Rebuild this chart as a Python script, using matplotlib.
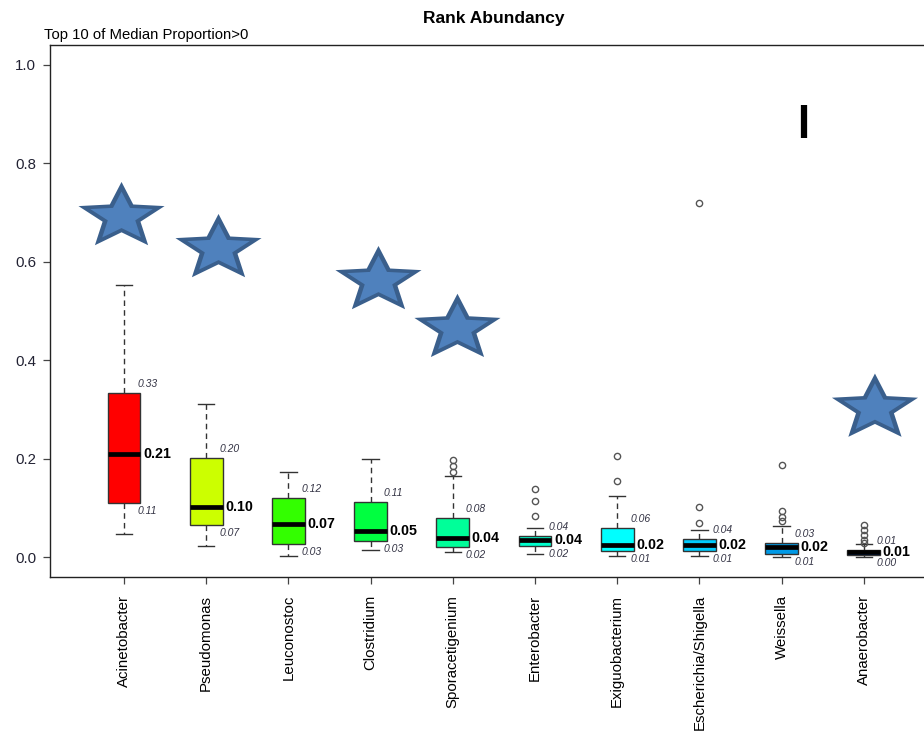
import numpy as np
import matplotlib
matplotlib.use("Agg")
import matplotlib.pyplot as plt
from matplotlib.path import Path

plt.rcParams['font.family'] = ['Liberation Sans', 'DejaVu Sans']

# data
genera = ['Acinetobacter', 'Pseudomonas', 'Leuconostoc', 'Clostridium',
          'Sporacetigenium', 'Enterobacter', 'Exiguobacterium',
          'Escherichia/Shigella', 'Weissella', 'Anaerobacter']
whislo = [0.048, 0.023, 0.003, 0.014, 0.010, 0.007, 0.003, 0.003, 0.001, 0.000]
q1 = [0.110, 0.066, 0.027, 0.034, 0.020, 0.022, 0.012, 0.012, 0.007, 0.004]
med = [0.210, 0.102, 0.068, 0.054, 0.040, 0.035, 0.024, 0.024, 0.021, 0.011]
q3 = [0.334, 0.202, 0.120, 0.112, 0.079, 0.044, 0.060, 0.038, 0.030, 0.014]
whishi = [0.552, 0.312, 0.174, 0.200, 0.166, 0.060, 0.124, 0.055, 0.063, 0.028]
fliers = [[], [], [], [],
          [0.174, 0.186, 0.198],
          [0.083, 0.114, 0.139],
          [0.154, 0.206],
          [0.070, 0.102, 0.719],
          [0.073, 0.082, 0.093, 0.187],
          [0.030, 0.036, 0.046, 0.055, 0.065]]
box_colors = ['#FF0000', '#CCFF00', '#33FF00', '#00FF40', '#00FF99',
              '#00FFCC', '#00FFFF', '#00CCFF', '#0099E6', '#0066FF']

# star decorations (centre x in box units, y in proportion)
star_x = [0.970, 2.150, 4.096, 5.057, 10.136]
star_y = [0.691, 0.626, 0.561, 0.464, 0.302]
# odd black bar near Weissella
bar_x = 9.27
bar_y = [0.852, 0.919]

fig = plt.figure(figsize=(9.24, 7.32), dpi=100)
ax = fig.add_axes([50 / 924, 155 / 732, 888 / 924, 532 / 732])

pos = np.arange(1, len(genera) + 1)
stats = []
for i in range(len(genera)):
    stats.append(dict(med=med[i], q1=q1[i], q3=q3[i], whislo=whislo[i],
                      whishi=whishi[i], fliers=fliers[i], label=genera[i]))

bp = ax.bxp(stats, positions=pos, widths=0.4, capwidths=0.2,
            patch_artist=True, manage_ticks=False,
            boxprops=dict(edgecolor='#333333', linewidth=1.0),
            whiskerprops=dict(color='#333333', linestyle=(0, (4, 3)),
                              linewidth=1.0),
            capprops=dict(color='#333333', linewidth=1.0),
            medianprops=dict(color='black', linewidth=3.4,
                             solid_capstyle='butt'),
            flierprops=dict(marker='o', markerfacecolor='none',
                            markeredgecolor='#555555', markersize=4.5,
                            markeredgewidth=1.0))
for patch, c in zip(bp['boxes'], box_colors):
    patch.set_facecolor(c)

# value labels next to each box
for i, p in enumerate(pos):
    ax.text(p + 0.16, q3[i] + 0.008, '%.2f' % q3[i], fontsize=7.5,
            style='italic', color='#333344', ha='left', va='bottom')
    ax.text(p + 0.23, med[i], '%.2f' % med[i], fontsize=10.3,
            fontweight='bold', color='black', ha='left', va='center')
    ax.text(p + 0.16, q1[i] - 0.006, '%.2f' % q1[i], fontsize=7.5,
            style='italic', color='#333344', ha='left', va='top')

# stars: dark outer star with a lighter inner star on top
sv = Path.unit_regular_star(5, innerCircle=0.44).vertices * [1.294, 1.0]
star = Path(sv, closed=True)
ax.scatter(star_x, star_y, marker=star, s=62 ** 2, facecolor='#3A5F8C',
           edgecolor='none', zorder=5)
ax.scatter(star_x, star_y, marker=star, s=45 ** 2, facecolor='#4F81BD',
           edgecolor='none', zorder=6)

ax.plot([bar_x, bar_x], bar_y, color='black', linewidth=4.5,
        solid_capstyle='butt')

ax.set_xlim(0.0998, 10.903)
ax.set_ylim(-0.04, 1.04)
ax.set_xticks(pos)
ax.set_xticklabels(genera, rotation=90, fontsize=10.8, va='top')
ax.set_yticks([0.0, 0.2, 0.4, 0.6, 0.8, 1.0])
ax.set_yticklabels(['0.0', '0.2', '0.4', '0.6', '0.8', '1.0'], fontsize=10.8,
                   color='#222233')
ax.tick_params(axis='x', length=5, width=0.9, pad=8, color='#444444')
ax.tick_params(axis='y', length=5, width=0.9, pad=5, color='#444444')
for s in ax.spines.values():
    s.set_linewidth(1.0)
    s.set_color('#222222')

fig.text(494 / 924, 1 - 18 / 732, 'Rank Abundancy', fontsize=12.5,
         fontweight='bold', ha='center', va='center')
fig.text(44 / 924, 1 - 42 / 732, 'Top 10 of Median Proportion>0',
         fontsize=10.7, ha='left', va='bottom')

fig.savefig('out.png', dpi=100)
